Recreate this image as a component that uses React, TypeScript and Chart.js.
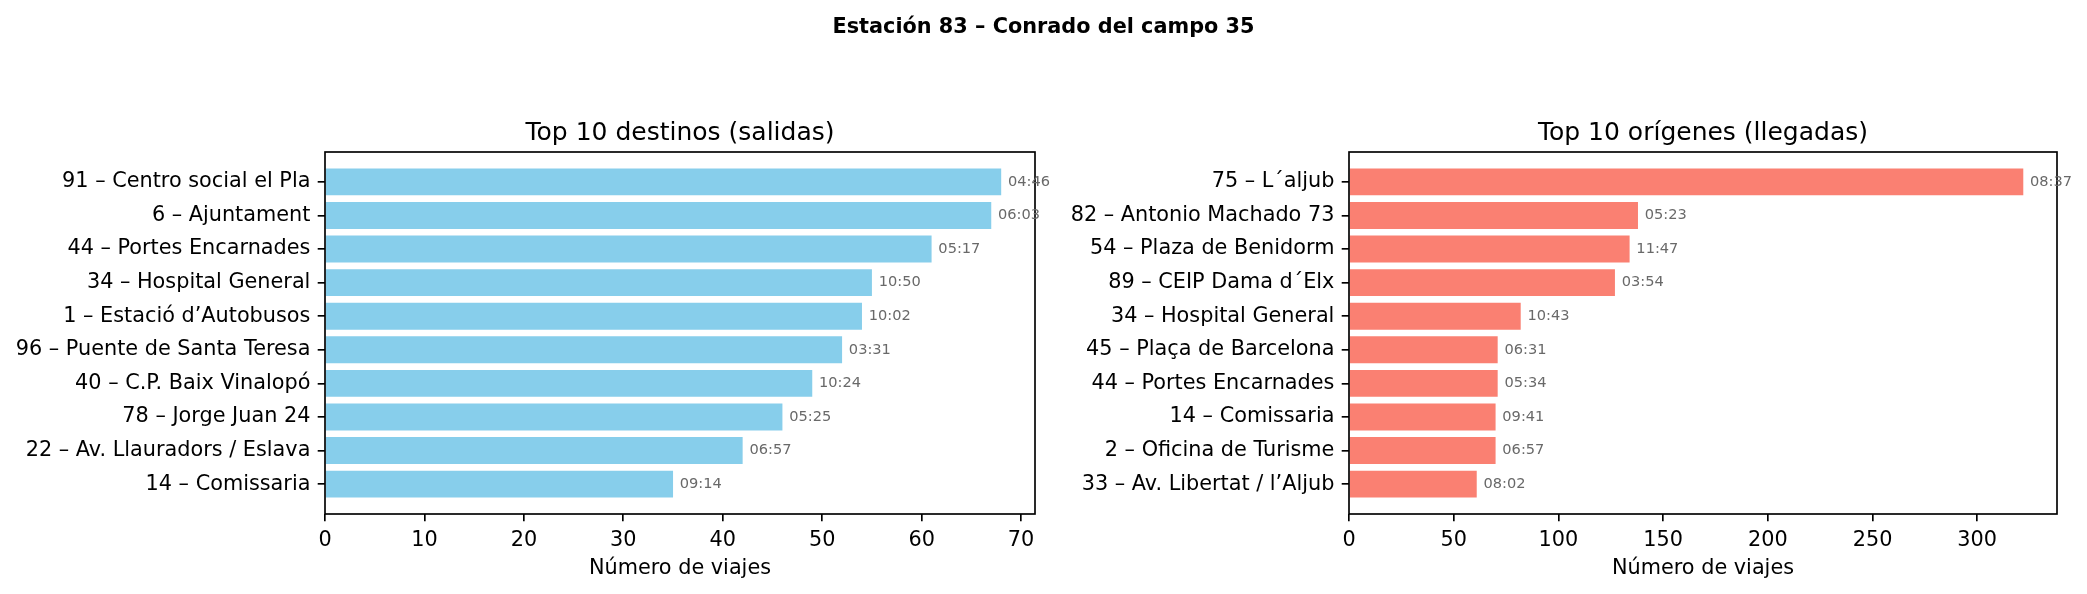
import React, { useEffect, useRef } from 'react';
import { Chart, registerables } from 'chart.js';

Chart.register(...registerables);

const SUPTITLE = 'Estación 83 – Conrado del campo 35';
const LEFT_TITLE = 'Top 10 destinos (salidas)';
const RIGHT_TITLE = 'Top 10 orígenes (llegadas)';
const X_TITLE = 'Número de viajes';

const destLabels = [
  '91 – Centro social el Pla',
  '6 – Ajuntament',
  '44 – Portes Encarnades',
  '34 – Hospital General',
  '1 – Estació d’Autobusos',
  '96 – Puente de Santa Teresa',
  '40 – C.P. Baix Vinalopó',
  '78 – Jorge Juan 24',
  '22 – Av. Llauradors / Eslava',
  '14 – Comissaria',
];
const destValues = [68, 67, 61, 55, 54, 52, 49, 46, 42, 35];
const destTimes = ['04:46', '06:03', '05:17', '10:50', '10:02', '03:31', '10:24', '05:25', '06:57', '09:14'];
const destTicks = [0, 10, 20, 30, 40, 50, 60, 70];

const origLabels = [
  '75 – L´aljub',
  '82 – Antonio Machado 73',
  '54 – Plaza de Benidorm',
  '89 – CEIP Dama d´Elx',
  '34 – Hospital General',
  '45 – Plaça de Barcelona',
  '44 – Portes Encarnades',
  '14 – Comissaria',
  '2 – Oficina de Turisme',
  '33 – Av. Libertat / l’Aljub',
];
const origValues = [322, 138, 134, 127, 82, 71, 71, 70, 70, 61];
const origTimes = ['08:37', '05:23', '11:47', '03:54', '10:43', '06:31', '05:34', '09:41', '06:57', '08:02'];
const origTicks = [0, 50, 100, 150, 200, 250, 300];

const FONT = "'DejaVu Sans', sans-serif";
const W = 2087;
const H = 594;
const LW = 1.67;

type Opts = {
  labels: string[];
  values: number[];
  times: string[];
  ticks: number[];
  color: string;
  title: string;
  padLeft: number;
  yWidth: number;
  padRight: number;
  suptitle: boolean;
};

function buildConfig(o: Opts): any {
  const n = o.labels.length;
  const lo = -0.4;
  const hi = n - 1 + 0.4;
  const m = 0.05 * (hi - lo);
  const dmax = Math.max(...o.values);
  const vmax = dmax * 1.05;

  const decor = {
    id: 'decor',
    afterDraw(chart: any) {
      const ctx = chart.ctx;
      const a = chart.chartArea;
      const xs = chart.scales.x;
      ctx.save();
      // frame
      ctx.strokeStyle = '#000';
      ctx.lineWidth = LW;
      ctx.strokeRect(a.left, a.top, a.right - a.left, a.bottom - a.top);
      // value labels
      ctx.fillStyle = '#696969';
      ctx.font = `14.6px ${FONT}`;
      ctx.textAlign = 'left';
      ctx.textBaseline = 'middle';
      const meta = chart.getDatasetMeta(0);
      meta.data.forEach((el: any, i: number) => {
        const x = xs.getPixelForValue(o.values[i] + dmax * 0.01);
        ctx.fillText(o.times[i], x, el.y);
      });
      // subplot title
      ctx.fillStyle = '#000';
      ctx.font = `25px ${FONT}`;
      ctx.textAlign = 'center';
      ctx.textBaseline = 'alphabetic';
      ctx.fillText(o.title, (a.left + a.right) / 2, a.top - 12.5);
      // x title
      ctx.font = `20.8px ${FONT}`;
      ctx.fillText(X_TITLE, (a.left + a.right) / 2, a.bottom + 60);
      if (o.suptitle) {
        ctx.font = `bold 20.8px ${FONT}`;
        ctx.fillText(SUPTITLE, W / 2, 33);
      }
      ctx.restore();
    },
  };

  const tickFont = { family: FONT, size: 20.8 };

  return {
    type: 'bar',
    data: {
      datasets: [
        {
          data: o.values.map((v, i) => ({ x: v, y: i })),
          backgroundColor: o.color,
          borderWidth: 0,
          barPercentage: 0.8,
          categoryPercentage: 1,
        },
      ],
    },
    options: {
      indexAxis: 'y',
      animation: false,
      responsive: false,
      devicePixelRatio: 1,
      layout: { padding: { left: o.padLeft, right: o.padRight, top: 152, bottom: 0 } },
      plugins: { legend: { display: false }, title: { display: false }, tooltip: { enabled: false } },
      scales: {
        x: {
          type: 'linear',
          min: 0,
          max: vmax,
          offset: false,
          afterBuildTicks: (s: any) => {
            s.ticks = o.ticks.map((v) => ({ value: v }));
          },
          ticks: { color: '#000', font: tickFont, padding: 7.3, autoSkip: false, maxRotation: 0 },
          grid: { offset: false, drawOnChartArea: false, drawTicks: true, tickLength: 7.3, color: '#000', lineWidth: LW },
          border: { display: false },
          afterFit: (s: any) => {
            s.height = 80;
          },
        },
        y: {
          type: 'linear',
          reverse: true,
          offset: false,
          min: lo - m,
          max: hi + m,
          afterBuildTicks: (s: any) => {
            s.ticks = o.labels.map((_, i) => ({ value: i }));
          },
          ticks: {
            color: '#000',
            font: tickFont,
            padding: 7.3,
            autoSkip: false,
            callback: (v: any) => o.labels[v] ?? '',
          },
          grid: { offset: false, drawOnChartArea: false, drawTicks: true, tickLength: 7.3, color: '#000', lineWidth: LW },
          border: { display: false },
          afterFit: (s: any) => {
            s.width = o.yWidth;
          },
        },
      },
    },
    plugins: [decor],
  };
}

function ChartCanvas({ opts }: { opts: Opts }) {
  const ref = useRef<HTMLCanvasElement | null>(null);
  useEffect(() => {
    if (!ref.current) return;
    const chart = new Chart(ref.current, buildConfig(opts));
    return () => chart.destroy();
  }, []);
  return (
    <canvas
      ref={ref}
      width={W}
      height={H}
      style={{ position: 'absolute', left: 0, top: 0, width: W, height: H }}
    />
  );
}

export default function App() {
  return (
    <div style={{ position: 'fixed', left: 0, top: 0, width: W, height: H, background: '#fff' }}>
      <ChartCanvas
        opts={{
          labels: destLabels,
          values: destValues,
          times: destTimes,
          ticks: destTicks,
          color: '#87CEEB',
          title: LEFT_TITLE,
          padLeft: 0,
          yWidth: 325,
          padRight: W - 1035,
          suptitle: true,
        }}
      />
      <ChartCanvas
        opts={{
          labels: origLabels,
          values: origValues,
          times: origTimes,
          ticks: origTicks,
          color: '#FA8072',
          title: RIGHT_TITLE,
          padLeft: 1049,
          yWidth: 300,
          padRight: W - 2057,
          suptitle: false,
        }}
      />
    </div>
  );
}
